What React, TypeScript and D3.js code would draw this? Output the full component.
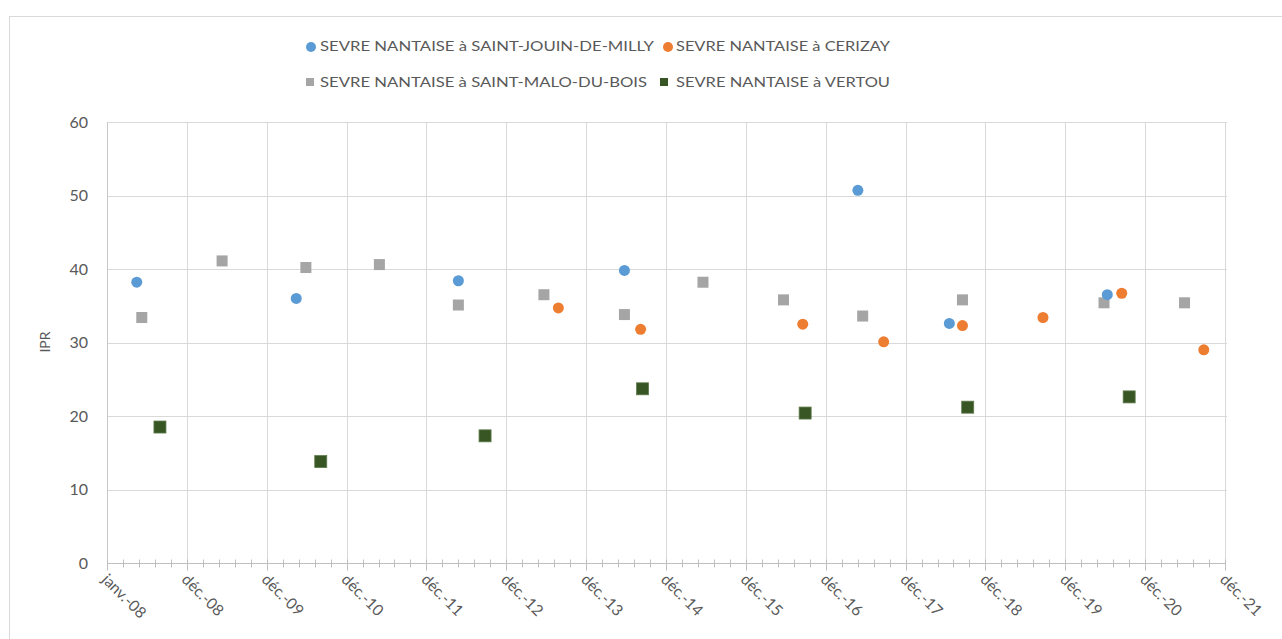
import React, { useEffect, useRef } from 'react';
import * as d3 from 'd3';

// stations (series names)
const seriesNames = [
  'SEVRE NANTAISE à SAINT-JOUIN-DE-MILLY',
  'SEVRE NANTAISE à CERIZAY',
  'SEVRE NANTAISE à SAINT-MALO-DU-BOIS',
  'SEVRE NANTAISE à VERTOU',
];

// IPR values
const jouinDates = ['2008-05-16', '2010-05-15', '2012-05-25', '2014-06-23', '2017-05-25', '2018-07-17', '2020-07-08'];
const jouinValues = [38.2, 36.0, 38.4, 39.8, 50.7, 32.6, 36.5];

const cerizayDates = ['2013-08-25', '2014-09-05', '2016-09-15', '2017-09-20', '2018-09-15', '2019-09-18', '2020-09-12', '2021-09-22'];
const cerizayValues = [34.7, 31.8, 32.5, 30.1, 32.3, 33.4, 36.7, 29.0];

const maloDates = ['2008-06-08', '2009-06-10', '2010-06-28', '2011-05-30', '2012-05-25', '2013-06-20', '2014-06-23', '2015-06-17', '2016-06-19', '2017-06-16', '2018-09-15', '2020-06-23', '2021-06-26'];
const maloValues = [33.4, 41.1, 40.2, 40.6, 35.1, 36.5, 33.8, 38.2, 35.8, 33.6, 35.8, 35.4, 35.4];

const vertouDates = ['2008-08-30', '2010-09-04', '2012-09-24', '2014-09-14', '2016-09-26', '2018-10-09', '2020-10-16'];
const vertouValues = [18.5, 13.8, 17.3, 23.7, 20.4, 21.2, 22.6];

const tickLabels = ['janv.-08', 'déc.-08', 'déc.-09', 'déc.-10', 'déc.-11', 'déc.-12', 'déc.-13', 'déc.-14', 'déc.-15', 'déc.-16', 'déc.-17', 'déc.-18', 'déc.-19', 'déc.-20', 'déc.-21'];
const yTicks = [0, 10, 20, 30, 40, 50, 60];

const FONT = 'Lato, "Open Sans", sans-serif';
const TEXT = '#595959';

const App = () => {
  const ref = useRef<SVGSVGElement>(null);

  useEffect(() => {
    const svg = d3.select(ref.current);
    svg.selectAll('*').remove();

    const parse = d3.timeParse('%Y-%m-%d');
    const start = new Date(2008, 0, 1);
    const end = d3.timeDay.offset(start, 14 * 365);

    const x = d3.scaleTime().domain([start, end]).range([107, 1225]);
    const y = d3.scaleLinear().domain([0, 60]).range([563, 122]);

    // chart border
    svg.append('rect')
      .attr('x', 9.5).attr('y', 16.5)
      .attr('width', 1290).attr('height', 640)
      .attr('fill', 'white').attr('stroke', '#d9d9d9');

    const majors = d3.range(tickLabels.length).map(i => d3.timeDay.offset(start, i * 365));
    const minors = d3.range(0, 14 * 5 + 1).map(i => d3.timeDay.offset(start, i * 73));

    // gridlines
    svg.append('g').selectAll('line')
      .data(yTicks.filter(d => d > 0))
      .join('line')
      .attr('x1', x(start)).attr('x2', x(end) + 2)
      .attr('y1', d => Math.round(y(d)) + 0.5).attr('y2', d => Math.round(y(d)) + 0.5)
      .attr('stroke', '#d9d9d9').attr('stroke-width', 1);

    svg.append('g').selectAll('line')
      .data(majors.slice(1))
      .join('line')
      .attr('x1', d => Math.round(x(d)) + 0.5).attr('x2', d => Math.round(x(d)) + 0.5)
      .attr('y1', y(60)).attr('y2', y(0))
      .attr('stroke', '#d9d9d9').attr('stroke-width', 1);

    // y axis line
    svg.append('line')
      .attr('x1', Math.round(x(start)) + 0.5).attr('x2', Math.round(x(start)) + 0.5)
      .attr('y1', y(60)).attr('y2', y(0))
      .attr('stroke', '#c8c8c8');

    // x axis
    const yb = Math.round(y(0)) + 0.5;
    svg.append('line')
      .attr('x1', x(start)).attr('x2', x(end))
      .attr('y1', yb).attr('y2', yb)
      .attr('stroke', '#bfbfbf');
    svg.append('g').selectAll('line')
      .data(minors)
      .join('line')
      .attr('x1', d => Math.round(x(d)) + 0.5).attr('x2', d => Math.round(x(d)) + 0.5)
      .attr('y1', yb - 4).attr('y2', yb + 4)
      .attr('stroke', '#bfbfbf');
    svg.append('g').selectAll('line')
      .data(majors)
      .join('line')
      .attr('x1', d => Math.round(x(d)) + 0.5).attr('x2', d => Math.round(x(d)) + 0.5)
      .attr('y1', yb).attr('y2', yb + 7)
      .attr('stroke', '#bfbfbf');

    svg.append('g').selectAll('text')
      .data(majors)
      .join('text')
      .attr('transform', d => `translate(${x(d) - 6},${yb + 17}) rotate(45)`)
      .attr('font-family', FONT).attr('font-size', 15.5).attr('fill', TEXT)
      .text((d, i) => tickLabels[i]);

    // y tick labels
    svg.append('g').selectAll('text')
      .data(yTicks)
      .join('text')
      .attr('x', 88).attr('y', d => y(d))
      .attr('dy', '0.35em').attr('text-anchor', 'end')
      .attr('font-family', FONT).attr('font-size', 16).attr('fill', TEXT)
      .text(d => d);

    svg.append('text')
      .attr('transform', 'translate(50,342) rotate(-90)')
      .attr('text-anchor', 'middle')
      .attr('font-family', FONT).attr('font-size', 14).attr('fill', TEXT)
      .text('IPR');

    const series = [
      { name: seriesNames[2], dates: maloDates, values: maloValues, color: '#a5a5a5', shape: 'square', size: 11 },
      { name: seriesNames[0], dates: jouinDates, values: jouinValues, color: '#5b9bd5', shape: 'circle', size: 11 },
      { name: seriesNames[1], dates: cerizayDates, values: cerizayValues, color: '#ed7d31', shape: 'circle', size: 11 },
      { name: seriesNames[3], dates: vertouDates, values: vertouValues, color: '#375623', shape: 'square', size: 12 },
    ];

    series.forEach(s => {
      const pts = s.dates.map((d, i) => ({ date: parse(d) as Date, value: s.values[i] }));
      const g = svg.append('g');
      if (s.shape === 'circle') {
        g.selectAll('circle').data(pts).join('circle')
          .attr('cx', d => x(d.date)).attr('cy', d => y(d.value))
          .attr('r', s.size / 2).attr('fill', s.color);
      } else {
        g.selectAll('rect').data(pts).join('rect')
          .attr('x', d => x(d.date) - s.size / 2).attr('y', d => y(d.value) - s.size / 2)
          .attr('width', s.size).attr('height', s.size)
          .attr('fill', s.color)
          .attr('stroke', s.color === '#375623' ? '#5f7a4c' : 'none').attr('stroke-width', 0.8);
      }
    });

    // legend
    const legend = [
      { name: seriesNames[0], color: '#5b9bd5', shape: 'circle', mx: 311, tx: 320, ty: 46, w: 334 },
      { name: seriesNames[1], color: '#ed7d31', shape: 'circle', mx: 668, tx: 676, ty: 46, w: 214 },
      { name: seriesNames[2], color: '#a5a5a5', shape: 'square', mx: 310, tx: 320, ty: 82, w: 327 },
      { name: seriesNames[3], color: '#375623', shape: 'square', mx: 664, tx: 676, ty: 82, w: 214 },
    ];
    const lg = svg.append('g');
    legend.forEach(l => {
      if (l.shape === 'circle') {
        lg.append('circle').attr('cx', l.mx).attr('cy', l.ty + 1).attr('r', 5).attr('fill', l.color);
      } else {
        lg.append('rect').attr('x', l.mx - 4).attr('y', l.ty - 4).attr('width', 8).attr('height', 8).attr('fill', l.color);
      }
      lg.append('text')
        .attr('x', l.tx).attr('y', l.ty).attr('dy', '0.35em')
        .attr('font-family', FONT).attr('font-size', 14).attr('fill', TEXT)
        .attr('textLength', l.w).attr('lengthAdjust', 'spacingAndGlyphs')
        .text(l.name);
    });
  }, []);

  return <svg ref={ref} width={1282} height={639} style={{ position: 'absolute', left: 0, top: 0, display: 'block' }} />;
};

export default App;
